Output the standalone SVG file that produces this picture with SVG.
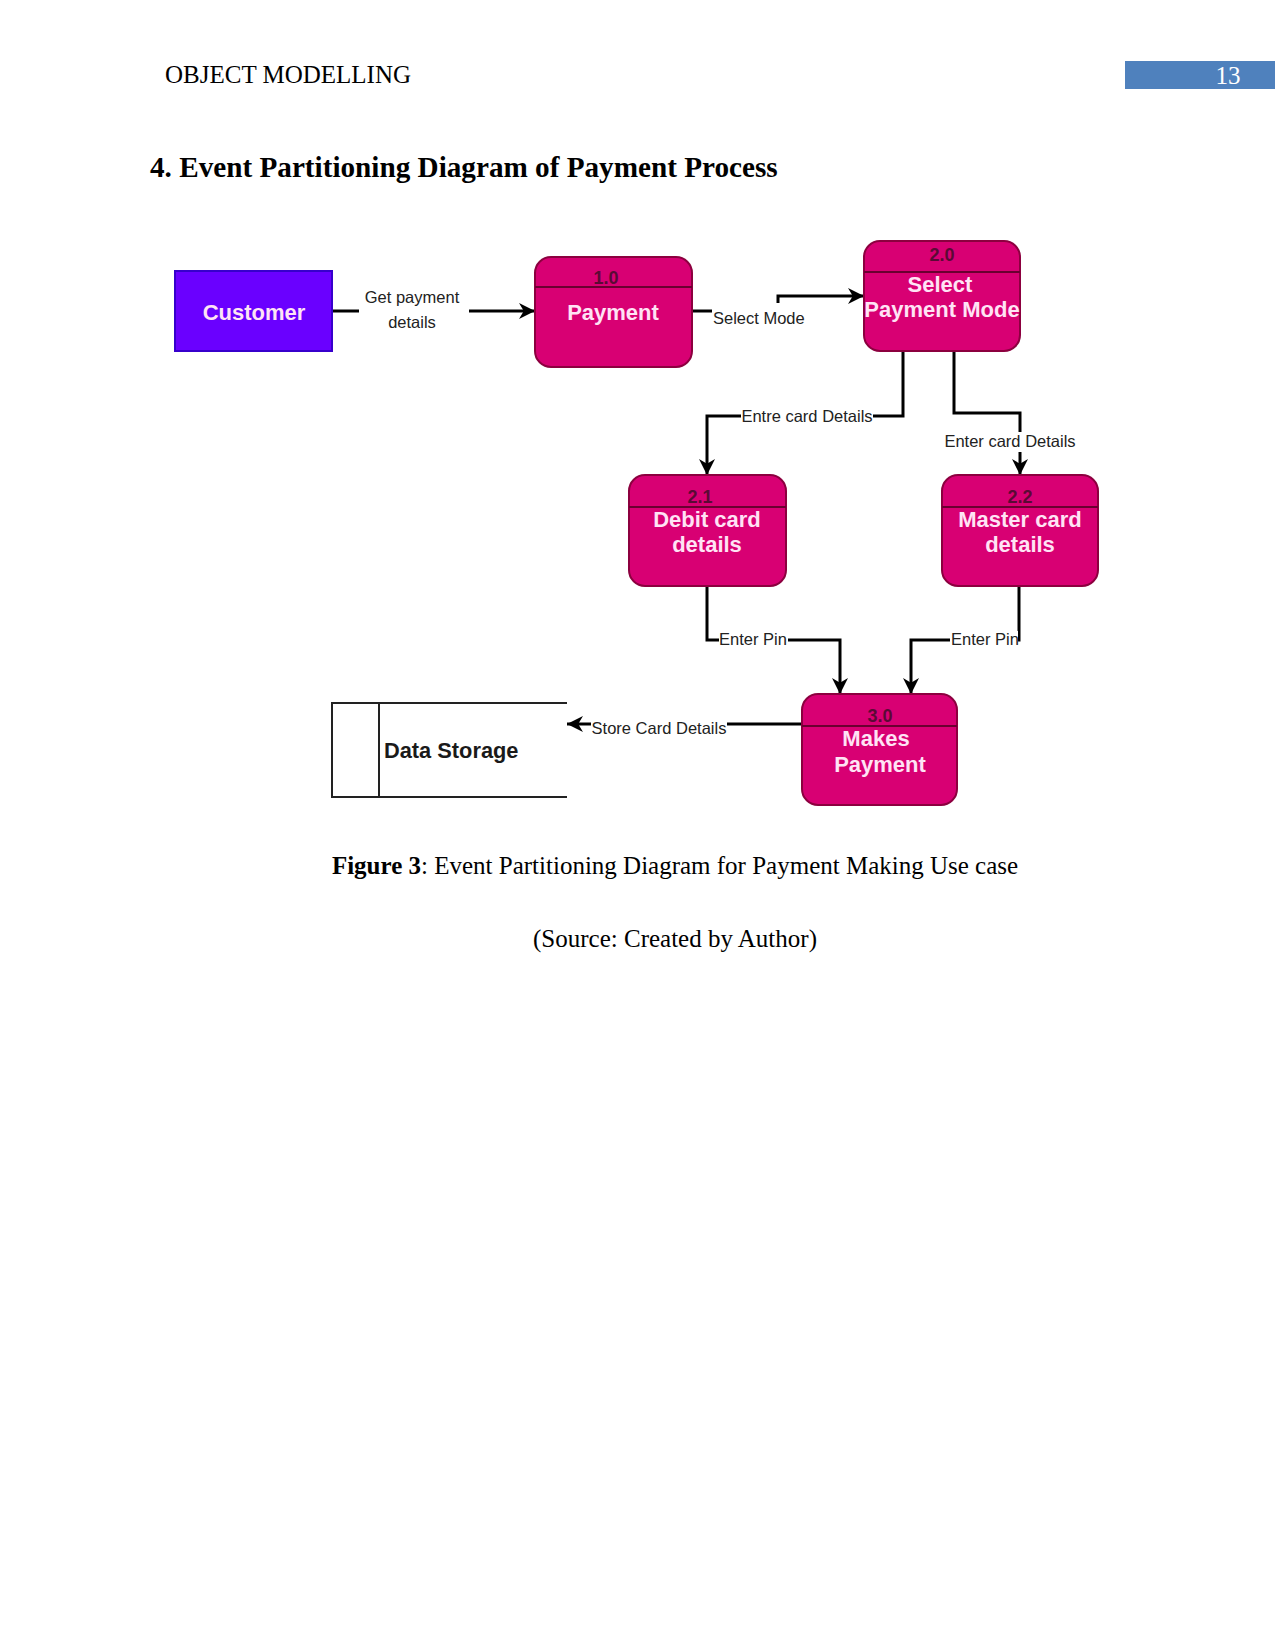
<svg xmlns="http://www.w3.org/2000/svg" width="1275" height="1650" viewBox="0 0 1275 1650">
<style>
.serif{font-family:"Liberation Serif","Times New Roman",serif;fill:#000}
.proc{fill:#d80073;stroke:#8c003f;stroke-width:2}
.sep{stroke:#6a0030;stroke-width:2}
.num{font-family:"Liberation Sans",Arial,sans-serif;font-weight:bold;font-size:18px;fill:#5a0a35;text-anchor:middle}
.lbl{font-family:"Liberation Sans",Arial,sans-serif;font-weight:bold;font-size:22px;fill:#ffe3f5;text-anchor:middle}
.conn{fill:none;stroke:#000;stroke-width:3;marker-end:url(#arr)}
.bg{fill:#fff}
.ct{font-family:"Liberation Sans",Arial,sans-serif;font-size:16.5px;fill:#222}
</style>
<defs>
<marker id="arr" viewBox="0 0 10 10" refX="10" refY="5" markerWidth="16" markerHeight="16" markerUnits="userSpaceOnUse" orient="auto">
<path d="M0,0 L10,5 L0,10 L3,5 z" fill="#000"/>
</marker>
</defs>
<rect width="1275" height="1650" fill="#fff"/>
<text class="serif" x="165" y="83" font-size="25">OBJECT MODELLING</text>
<rect x="1125" y="61" width="150" height="28" fill="#4f81bd"/>
<text x="1228" y="84" font-family="Liberation Serif,serif" font-size="25" fill="#fff" text-anchor="middle">13</text>
<text class="serif" x="150" y="177" font-size="29.2" font-weight="bold">4. Event Partitioning Diagram of Payment Process</text>

<g id="connectors">
<path class="conn" d="M332,311 H535"/>
<rect class="bg" x="359" y="284" width="110" height="50"/>
<text class="ct" x="412" y="303" text-anchor="middle" font-size="19.5">Get payment</text>
<text class="ct" x="412" y="328" text-anchor="middle" font-size="19.5">details</text>
<path class="conn" d="M692,311 H778 V296 H864"/>
<rect class="bg" x="712" y="303" width="93" height="26"/>
<text class="ct" x="713" y="324">Select Mode</text>
<path class="conn" d="M903,351 V416 H707 V475"/>
<rect class="bg" x="741" y="407" width="132" height="20"/>
<text class="ct" x="807" y="422" text-anchor="middle">Entre card Details</text>
<path class="conn" d="M954,351 V413 H1020 V475"/>
<rect class="bg" x="943" y="432" width="134" height="20"/>
<text class="ct" x="1010" y="447" text-anchor="middle">Enter card Details</text>
<path class="conn" d="M707,586 V640 H840 V694"/>
<rect class="bg" x="719" y="631" width="69" height="19"/>
<text class="ct" x="753" y="645" text-anchor="middle">Enter Pin</text>
<path class="conn" d="M1019,586 V640 H911 V694"/>
<rect class="bg" x="950" y="631" width="68" height="19"/>
<text class="ct" x="985" y="645" text-anchor="middle">Enter Pin</text>
<path class="conn" d="M802,724 H567"/>
<rect class="bg" x="591" y="719" width="136" height="19"/>
<text class="ct" x="659" y="734" text-anchor="middle">Store Card Details</text>
</g>

<g id="customer">
<rect x="175" y="271" width="157" height="80" fill="#6a00ff" stroke="#3700cc" stroke-width="2"/>
<text class="lbl" x="254" y="320">Customer</text>
</g>

<g id="p1">
<rect class="proc" x="535" y="257" width="157" height="110" rx="16"/>
<line class="sep" x1="535" y1="287" x2="692" y2="287"/>
<text class="num" x="606" y="284">1.0</text>
<text class="lbl" x="613" y="320">Payment</text>
</g>

<g id="p2">
<rect class="proc" x="864" y="241" width="156" height="110" rx="16"/>
<line class="sep" x1="864" y1="272" x2="1020" y2="272"/>
<text class="num" x="942" y="261">2.0</text>
<text class="lbl" x="940" y="292">Select</text>
<text class="lbl" x="942" y="317">Payment Mode</text>
</g>

<g id="p21">
<rect class="proc" x="629" y="475" width="157" height="111" rx="16"/>
<line class="sep" x1="629" y1="507" x2="786" y2="507"/>
<text class="num" x="700" y="503">2.1</text>
<text class="lbl" x="707" y="527">Debit card</text>
<text class="lbl" x="707" y="552">details</text>
</g>

<g id="p22">
<rect class="proc" x="942" y="475" width="156" height="111" rx="16"/>
<line class="sep" x1="942" y1="507" x2="1098" y2="507"/>
<text class="num" x="1020" y="503">2.2</text>
<text class="lbl" x="1020" y="527">Master card</text>
<text class="lbl" x="1020" y="552">details</text>
</g>

<g id="p3">
<rect class="proc" x="802" y="694" width="155" height="111" rx="16"/>
<line class="sep" x1="802" y1="726" x2="957" y2="726"/>
<text class="num" x="880" y="722">3.0</text>
<text class="lbl" x="876" y="746">Makes</text>
<text class="lbl" x="880" y="772">Payment</text>
</g>

<g id="datastore">
<path d="M567,703 H332 V797 H567 M379,703 V797" fill="none" stroke="#222" stroke-width="2"/>
<text x="384" y="758" font-family="Liberation Sans,Arial,sans-serif" font-weight="bold" font-size="21.8" fill="#1a1a1a">Data Storage</text>
</g>

<text class="serif" x="675" y="874" font-size="25" text-anchor="middle"><tspan font-weight="bold">Figure 3</tspan>: Event Partitioning Diagram for Payment Making Use case</text>
<text class="serif" x="675" y="947" font-size="25" text-anchor="middle">(Source: Created by Author)</text>
</svg>
